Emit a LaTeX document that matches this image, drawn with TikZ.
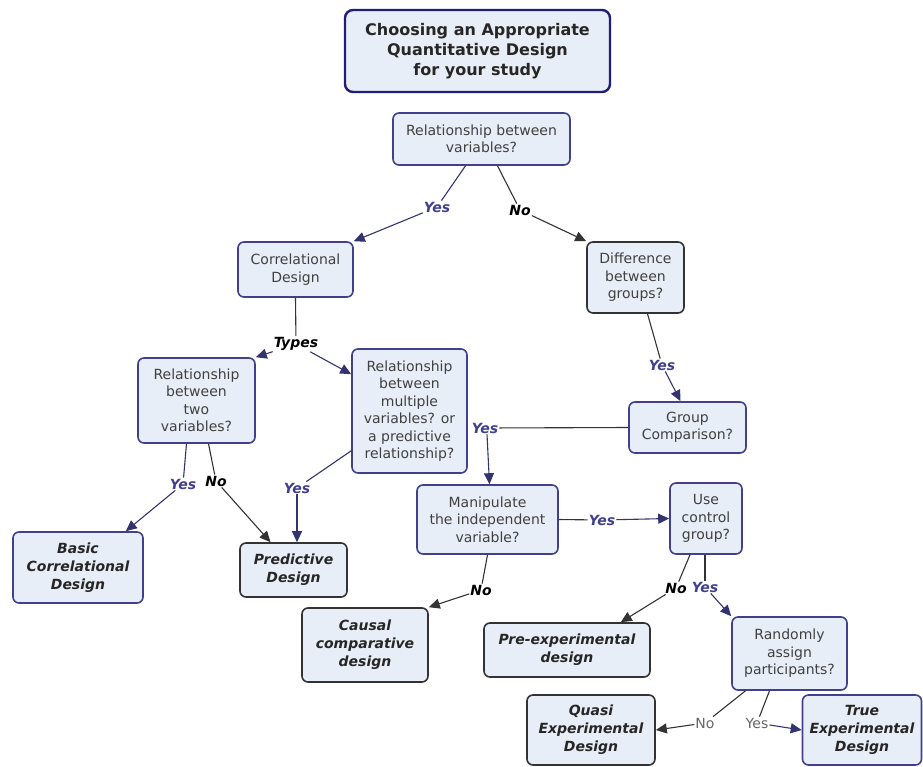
\documentclass[tikz,border=0pt]{standalone}
\usepackage{fontspec}
\setmainfont{DejaVu Sans}
\usetikzlibrary{arrows.meta}
\definecolor{boxfill}{HTML}{E8EEF7}
\definecolor{qblue}{HTML}{40408E}
\definecolor{navy}{HTML}{1E1E78}
\definecolor{txtgray}{HTML}{404040}
\begin{document}
\begin{tikzpicture}[x=1pt,y=-1pt,
    box/.style={draw,rounded corners=6pt,fill=boxfill,line width=1.6pt,align=center,inner sep=1pt,
      text=txtgray,font=\fontsize{14}{17.5}\selectfont},
    qbox/.style={box,draw=qblue},
    dbox/.style={box,draw=black!80},
    endbox/.style={font=\fontsize{14}{18}\selectfont\bfseries\itshape,text=black!85},
    lbl/.style={inner sep=1pt,font=\fontsize{14}{16}\selectfont\bfseries\itshape},
    ylbl/.style={lbl,text=qblue},
    nlbl/.style={lbl,text=black},
    plbl/.style={inner sep=1pt,font=\fontsize{14}{16}\selectfont,text=black!60},
    yesline/.style={qblue!80!black,line width=1.1pt},
    noline/.style={black!80,line width=1.1pt},
    yesarr/.style={yesline,-{Triangle[length=11pt,width=10pt]}},
    noarr/.style={noline,-{Triangle[length=11pt,width=10pt]}}]
  \useasboundingbox (0,0) rectangle (923,766);
  \node[box,draw=navy,line width=2.4pt,rounded corners=8pt,minimum width=265pt,minimum height=82pt,
    text=black!85,font=\fontsize{16}{20}\selectfont\bfseries] (title) at (477.5,51)
    {Choosing an Appropriate\\Quantitative Design\\for your study};
  \node[qbox,minimum width=177pt,minimum height=52pt] (relvar) at (481.5,139) {Relationship between\\variables?};
  \node[qbox,minimum width=115pt,minimum height=55pt] (corr) at (295.5,269.5) {Correlational\\Design};
  \node[dbox,minimum width=97pt,minimum height=71pt] (diff) at (635.5,277.5) {Difference\\between\\groups?};
  \node[qbox,minimum width=117pt,minimum height=85pt] (twovar) at (196.5,400.5) {Relationship\\between\\two\\variables?};
  \node[qbox,minimum width=115pt,minimum height=124pt] (multi) at (409.5,411)
    {Relationship\\between\\multiple\\variables? or\\a predictive\\relationship?};
  \node[qbox,minimum width=117pt,minimum height=51pt] (grp) at (687.5,427.5) {Group\\Comparison?};
  \node[qbox,minimum width=141pt,minimum height=69pt] (manip) at (487.5,519.5) {Manipulate\\the independent\\variable?};
  \node[qbox,minimum width=72pt,minimum height=71pt] (ctrl) at (706,518.5) {Use\\control\\group?};
  \node[qbox,endbox,minimum width=130pt,minimum height=71pt] (basic) at (78,567.5) {Basic\\Correlational\\Design};
  \node[dbox,endbox,minimum width=107pt,minimum height=54pt] (pred) at (293.5,570) {Predictive\\Design};
  \node[dbox,endbox,minimum width=126pt,minimum height=74pt] (causal) at (365,645) {Causal\\comparative\\design};
  \node[dbox,endbox,minimum width=166pt,minimum height=54pt] (preexp) at (567,650) {Pre-experimental\\design};
  \node[qbox,minimum width=115pt,minimum height=73pt] (rand) at (789.5,653.5) {Randomly\\assign\\participants?};
  \node[dbox,endbox,minimum width=128pt,minimum height=70pt] (quasi) at (591,730) {Quasi\\Experimental\\Design};
  \node[qbox,endbox,minimum width=119pt,minimum height=70pt] (truex) at (862,730) {True\\Experimental\\Design};

  \node[ylbl] (y1) at (437,207) {Yes};
  \node[nlbl] (n1) at (520,210) {No};
  \node[nlbl] (types) at (296,344) {Types};
  \node[ylbl] (y2) at (662,365) {Yes};
  \node[ylbl] (y3) at (485,428) {Yes};
  \node[ylbl] (y4) at (183,484) {Yes};
  \node[nlbl] (n4) at (216,481) {No};
  \node[ylbl] (y5) at (297,488) {Yes};
  \node[ylbl] (y6) at (602,520) {Yes};
  \node[nlbl] (n7) at (481,590) {No};
  \node[nlbl] (n8) at (676,588) {No};
  \node[ylbl] (y8) at (705,587) {Yes};
  \node[plbl] (n9) at (705,723) {No};
  \node[plbl] (y9) at (757,723) {Yes};

  \draw[yesline] ([xshift=-16pt]relvar.south) -- (y1);
  \draw[yesarr] (y1) -- (corr.north east);
  \draw[noline] ([xshift=16pt]relvar.south) -- (n1);
  \draw[noarr] (n1) -- (diff.north west);
  \draw[noline] (corr.south) -- (types);
  \draw[yesarr] (types) -- (twovar.north east);
  \draw[yesarr] (types) -- ([yshift=-26pt]multi.north west);
  \draw[noline] ([xshift=12pt]diff.south) -- (y2);
  \draw[yesarr] (y2) -- ([xshift=-7pt]grp.north);
  \draw[noline] (grp.west) -- (y3);
  \draw[yesarr] ([xshift=2pt]y3.south) -- ([xshift=2pt]manip.north);
  \draw[yesline] ([xshift=-10pt]twovar.south) -- (y4);
  \draw[yesarr] (y4) -- ([xshift=-18pt]basic.north east);
  \draw[noline] ([xshift=12pt]twovar.south) -- (n4);
  \draw[noarr] (n4) -- ([xshift=-23pt]pred.north);
  \draw[yesline] ([yshift=23pt]multi.south west) -- (y5);
  \draw[yesarr] (y5) -- ([xshift=3.5pt]pred.north);
  \draw[noline] (manip.east) -- (y6);
  \draw[yesarr] (y6) -- (ctrl.west);
  \draw[noline] (manip.south) -- (n7);
  \draw[noarr] (n7) -- (causal.north east);
  \draw[noline] ([xshift=-16pt]ctrl.south) -- (n8);
  \draw[noarr] (n8) -- ([xshift=-30pt]preexp.north east);
  \draw[noline] ([xshift=-1pt]ctrl.south) -- (y8);
  \draw[yesarr] (y8) -- (rand.north west);
  \draw[noline] ([xshift=-44pt]rand.south) -- (n9);
  \draw[noarr] (n9) -- (quasi.east);
  \draw[noline] ([xshift=-20pt]rand.south) -- (y9);
  \draw[yesarr] (y9) -- (truex.west);
\end{tikzpicture}
\end{document}
